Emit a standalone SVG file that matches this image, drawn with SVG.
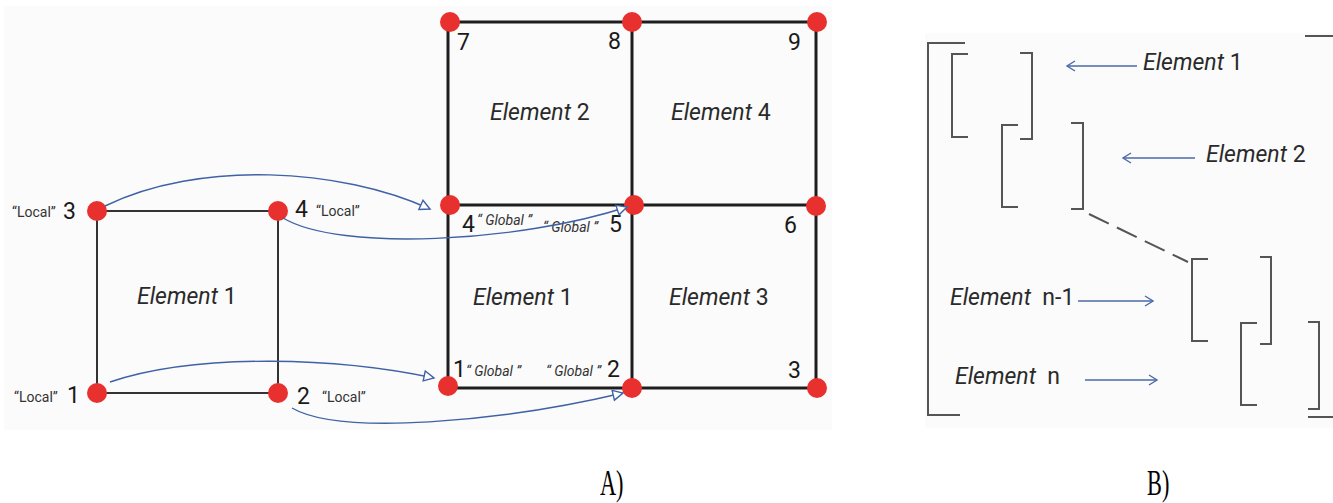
<svg xmlns="http://www.w3.org/2000/svg" width="1333" height="503" viewBox="0 0 1333 503">
  <style>
    .bg { fill: #fbfbfb; }
    .thin { fill: none; stroke: #333; stroke-width: 2; }
    .grid { fill: none; stroke: #1e1e1e; stroke-width: 3; }
    .dot { fill: #e8312f; }
    .link { fill: none; stroke: #3f62a6; stroke-width: 1.4; }
    .num { font-family: Roboto, "Liberation Sans", sans-serif; font-size: 23px; fill: #1a1a1a; }
    .loc { font-family: Roboto, "Liberation Sans", sans-serif; font-size: 14px; fill: #333; }
    .glob { font-family: Roboto, "Liberation Sans", sans-serif; font-size: 14px; fill: #333; font-style: italic; }
    .el { font-family: Roboto, "Liberation Sans", sans-serif; font-size: 23px; fill: #2a2a2a; }
    .el .it { font-style: italic; }
    .br { fill: none; stroke: #555; stroke-width: 2; }
    .ptr { fill: none; stroke: #4a6aa6; stroke-width: 1.4; }
    .cap { font-family: "Liberation Serif", serif; font-size: 36px; fill: #000; }
  </style>
  <defs>
    <marker id="tri" markerUnits="userSpaceOnUse" markerWidth="14" markerHeight="14" refX="11" refY="6" orient="auto">
      <path d="M1,1 L11,6 L1,11 Z" fill="#fff" stroke="#3f62a6" stroke-width="1.4"/>
    </marker>
    <marker id="vee" markerUnits="userSpaceOnUse" markerWidth="14" markerHeight="14" refX="10" refY="6" orient="auto">
      <path d="M2,1 L10,6 L2,11" fill="none" stroke="#4a6aa6" stroke-width="1.4"/>
    </marker>
  </defs>

  <!-- panel backgrounds -->
  <rect class="bg" x="4" y="6" width="828" height="424"/>
  <rect class="bg" x="925" y="33" width="408" height="395"/>

  <!-- local element -->
  <g id="local-element">
    <rect class="thin" x="97" y="211" width="181" height="182"/>
    <circle class="dot" cx="97" cy="211" r="10"/>
    <circle class="dot" cx="278" cy="211" r="10"/>
    <circle class="dot" cx="97" cy="393" r="10"/>
    <circle class="dot" cx="278" cy="393" r="10"/>
    <text class="loc" x="12" y="217">“Local”</text>
    <text class="num" x="63" y="219">3</text>
    <text class="num" x="295" y="217">4</text>
    <text class="loc" x="316" y="216">“Local”</text>
    <text class="loc" x="14" y="402">“Local”</text>
    <text class="num" x="67" y="403">1</text>
    <text class="num" x="297" y="404">2</text>
    <text class="loc" x="322" y="402">“Local”</text>
    <text class="el" x="137" y="304"><tspan class="it">Element</tspan> 1</text>
  </g>

  <!-- global mesh -->
  <g id="global-mesh">
    <rect class="grid" x="448" y="22" width="368" height="366"/>
    <line class="grid" x1="632" y1="22" x2="632" y2="388"/>
    <line class="grid" x1="448" y1="205" x2="816" y2="205"/>
    <circle class="dot" cx="450" cy="22" r="10"/>
    <circle class="dot" cx="632" cy="22" r="10"/>
    <circle class="dot" cx="817" cy="22" r="10"/>
    <circle class="dot" cx="450" cy="205" r="10"/>
    <circle class="dot" cx="634" cy="205" r="10"/>
    <circle class="dot" cx="816" cy="206" r="10"/>
    <circle class="dot" cx="448" cy="386" r="10"/>
    <circle class="dot" cx="632" cy="388" r="10"/>
    <circle class="dot" cx="817" cy="388" r="10"/>
    <text class="num" x="457" y="50">7</text>
    <text class="num" x="608" y="49">8</text>
    <text class="num" x="788" y="50">9</text>
    <text class="num" x="462" y="232">4</text>
    <text class="glob" x="477" y="225" xml:space="preserve">“ Global ”</text>
    <text class="glob" x="543" y="232" xml:space="preserve">“ Global ”</text>
    <text class="num" x="609" y="232">5</text>
    <text class="num" x="784" y="233">6</text>
    <text class="num" x="453" y="377">1</text>
    <text class="glob" x="466" y="376" xml:space="preserve">“ Global ”</text>
    <text class="glob" x="546" y="376" xml:space="preserve">“ Global ”</text>
    <text class="num" x="607" y="377">2</text>
    <text class="num" x="788" y="378">3</text>
  </g>
  <g id="mesh-element-2"><text class="el" x="490" y="120"><tspan class="it">Element</tspan> 2</text></g>
  <g id="mesh-element-4"><text class="el" x="671" y="120"><tspan class="it">Element</tspan> 4</text></g>
  <g id="mesh-element-1"><text class="el" x="473" y="305"><tspan class="it">Element</tspan> 1</text></g>
  <g id="mesh-element-3"><text class="el" x="669" y="305"><tspan class="it">Element</tspan> 3</text></g>

  <!-- local-to-global node mapping -->
  <g id="connectors">
    <path class="link" marker-end="url(#tri)" d="M105,206 C200,160 340,168 430,209"/>
    <path class="link" marker-end="url(#tri)" d="M283,218 C340,252 520,242 627,207"/>
    <path class="link" marker-end="url(#tri)" d="M110,382 C200,352 340,358 434,378"/>
    <path class="link" marker-end="url(#tri)" d="M292,408 C340,436 500,422 623,393"/>
  </g>

  <!-- assembled global matrix -->
  <g id="global-matrix">
    <path class="br" d="M965,43 H928 V415 H960"/>
    <path class="br" d="M1305,36 H1333"/>
    <path class="br" d="M1308,417 H1333"/>
  </g>
  <g id="block-element-1">
    <path class="br" d="M968,54 H952 V137 H968"/>
    <path class="br" d="M1020,53 H1032 V139 H1020"/>
  </g>
  <g id="block-element-2">
    <path class="br" d="M1018,125 H1002 V207 H1018"/>
    <path class="br" d="M1071,123 H1083 V209 H1071"/>
  </g>
  <g id="block-element-n-1">
    <path class="br" d="M1208,259 H1192 V341 H1208"/>
    <path class="br" d="M1260,257 H1271 V344 H1260"/>
  </g>
  <g id="block-element-n">
    <path class="br" d="M1257,323 H1241 V405 H1257"/>
    <path class="br" d="M1308,322 H1319 V409 H1308"/>
  </g>
  <g id="matrix-pointers">
    <line class="br" x1="1089" y1="214" x2="1188" y2="262" stroke-dasharray="22 9"/>
    <line class="ptr" marker-end="url(#vee)" x1="1137" y1="66" x2="1067" y2="66"/>
    <line class="ptr" marker-end="url(#vee)" x1="1195" y1="158" x2="1123" y2="158"/>
    <line class="ptr" marker-end="url(#vee)" x1="1078" y1="301" x2="1153" y2="301"/>
    <line class="ptr" marker-end="url(#vee)" x1="1085" y1="380" x2="1157" y2="380"/>
  </g>
  <g id="matrix-labels">
    <text class="el" x="1143" y="70"><tspan class="it">Element</tspan> 1</text>
    <text class="el" x="1206" y="162"><tspan class="it">Element</tspan> 2</text>
    <text class="el" x="950" y="305" xml:space="preserve"><tspan class="it">Element</tspan>  n-1</text>
    <text class="el" x="955" y="384" xml:space="preserve"><tspan class="it">Element</tspan>  n</text>
  </g>

  <!-- panel captions, set in a condensed serif -->
  <text class="cap" transform="translate(600,495) scale(0.62,1)">A)</text>
  <text class="cap" transform="translate(1147,495) scale(0.62,1)">B)</text>
</svg>
